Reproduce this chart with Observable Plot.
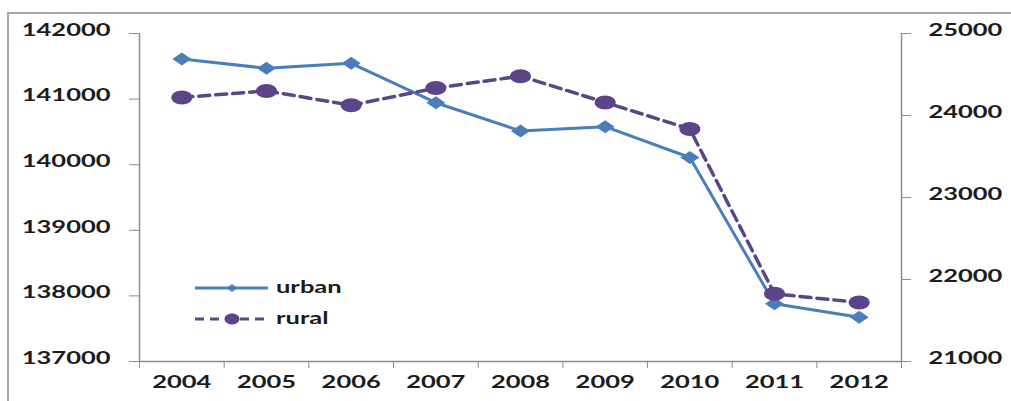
<!DOCTYPE html>
<html>
<head>
<meta charset="utf-8">
<script src="https://cdn.jsdelivr.net/npm/d3@7"></script>
<script src="https://cdn.jsdelivr.net/npm/@observablehq/plot@0.6"></script>
<style>
  html, body { margin: 0; padding: 0; background: #fff; }
  #wrap { position: relative; width: 1011px; height: 401px; overflow: hidden; background: #fff; }
  #border { position: absolute; left: 7px; top: 12px; width: 1100px; height: 500px;
            border-left: 2px solid #a6a6a6; border-top: 2px solid #a6a6a6; }
  #chart svg { position: absolute; left: 0; top: 0; }
  #legend { position: absolute; left: 0; top: 0; }
  text { font-family: Lato, "Open Sans", sans-serif; font-weight: 700; }
</style>
</head>
<body>
<div id="wrap">
  <div id="border"></div>
  <div id="chart"></div>
  <svg id="legend" width="400" height="401"></svg>
</div>
<script>
// Population by year: urban on the left axis, rural on the right axis
const years = [2004, 2005, 2006, 2007, 2008, 2009, 2010, 2011, 2012];
const urban = [141610, 141470, 141545, 140945, 140515, 140580, 140110, 137880, 137675];
const rural = [24220, 24300, 24125, 24335, 24480, 24160, 23835, 21825, 21720];
const leftTicks = [137000, 138000, 139000, 140000, 141000, 142000];
const rightTicks = [21000, 22000, 23000, 24000, 25000];
const seriesNames = ["urban", "rural"];

const blue = "#4a7ebb";
const purple = "#5b4488";
const axisGray = "#8c8c8c";
const ink = "#1c1c1c";

// Map the right-axis range onto the left-axis range
const leftDomain = [leftTicks[0], leftTicks[leftTicks.length - 1]];
const rightDomain = [rightTicks[0], rightTicks[rightTicks.length - 1]];
const k = (leftDomain[1] - leftDomain[0]) / (rightDomain[1] - rightDomain[0]);
const toLeft = r => leftDomain[0] + (r - rightDomain[0]) * k;
const fromLeft = u => Math.round(rightDomain[0] + (u - leftDomain[0]) / k);

const xDomain = [years[0] - 0.5, years[years.length - 1] + 0.5];
const boundaries = [...years.map(y => y - 0.5), years[years.length - 1] + 0.5];

const rows = years.map((year, i) => ({year, urban: urban[i], rural: toLeft(rural[i])}));

// Wide marker shapes (ellipse and flattened diamond)
function ellipse(rx, ry) {
  const c = 0.5523;
  return {draw(ctx) {
    ctx.moveTo(rx, 0);
    ctx.bezierCurveTo(rx, c * ry, c * rx, ry, 0, ry);
    ctx.bezierCurveTo(-c * rx, ry, -rx, c * ry, -rx, 0);
    ctx.bezierCurveTo(-rx, -c * ry, -c * rx, -ry, 0, -ry);
    ctx.bezierCurveTo(c * rx, -ry, rx, -c * ry, rx, 0);
    ctx.closePath();
  }};
}
function diamond(hx, hy) {
  return {draw(ctx) {
    ctx.moveTo(hx, 0); ctx.lineTo(0, hy); ctx.lineTo(-hx, 0); ctx.lineTo(0, -hy); ctx.closePath();
  }};
}

const textStyle = {fontSize: 17, fontWeight: 700, fontFamily: "Lato, 'Open Sans', sans-serif"};

const chart = Plot.plot({
  width: 1011,
  height: 401,
  marginLeft: 139,
  marginRight: 110,
  marginTop: 33,
  marginBottom: 40,
  style: {background: "transparent", color: ink, ...textStyle},
  x: {type: "linear", domain: xDomain},
  y: {type: "linear", domain: leftDomain},
  marks: [
    Plot.axisY(leftTicks, {anchor: "left", tickSize: 10, tickPadding: 19, tickFormat: d => String(d),
      label: null, stroke: axisGray, fill: ink, ...textStyle}),
    Plot.axisY(rightTicks.map(toLeft), {anchor: "right", tickSize: 9, tickPadding: 18,
      tickFormat: d => String(fromLeft(d)), label: null, stroke: axisGray, fill: ink, ...textStyle}),
    Plot.axisX(years, {anchor: "bottom", tickSize: 0, tickPadding: 26, tickFormat: d => String(d),
      label: null, fill: ink, ...textStyle}),
    Plot.axisX(boundaries, {anchor: "bottom", tickSize: 7, tickFormat: () => "", label: null,
      stroke: axisGray}),
    Plot.ruleX(xDomain, {stroke: axisGray, strokeWidth: 1.5}),
    Plot.ruleY([leftDomain[0]], {stroke: axisGray, strokeWidth: 1.5}),
    Plot.line(rows, {x: "year", y: "urban", stroke: blue, strokeWidth: 3}),
    Plot.dot(rows, {x: "year", y: "urban", symbol: diamond(9.5, 6.5), fill: blue, stroke: "none"}),
    Plot.line(rows, {x: "year", y: "rural", stroke: purple, strokeWidth: 3.5, strokeDasharray: "11,6"}),
    Plot.dot(rows, {x: "year", y: "rural", symbol: ellipse(10.5, 7), fill: purple, stroke: "none"})
  ]
});
document.getElementById("chart").appendChild(chart);

// Legend inside the plot area
const legendItems = [
  {name: seriesNames[0], color: blue, dash: null, width: 3, marker: diamond(5.5, 4)},
  {name: seriesNames[1], color: purple, dash: "9,6", width: 3, marker: ellipse(7.5, 5.5)}
];
const lg = d3.select("#legend");
legendItems.forEach((it, i) => {
  const cy = 288 + i * 31;
  const g = lg.append("g");
  g.append("line").attr("x1", 195).attr("x2", 268).attr("y1", cy).attr("y2", cy)
    .attr("stroke", it.color).attr("stroke-width", it.width)
    .attr("stroke-dasharray", it.dash);
  const p = d3.path();
  it.marker.draw(p);
  g.append("path").attr("d", p.toString()).attr("transform", `translate(232,${cy})`)
    .attr("fill", it.color);
  g.append("text").attr("x", 276).attr("y", cy).attr("dy", "0.32em")
    .attr("fill", ink).attr("font-size", 17).attr("font-weight", 700)
    .attr("text-anchor", "start").text(it.name);
});

// Widen every label horizontally about its own anchor point;
// y-axis labels sit a touch lower, level with their ticks
document.querySelectorAll("#wrap text").forEach(t => {
  const x = parseFloat(t.getAttribute("x")) || 0;
  let y = parseFloat(t.getAttribute("y")) || 0;
  const group = t.closest("g[aria-label]");
  if (group && /y-axis tick label/.test(group.getAttribute("aria-label"))) y += 2;
  const prev = t.getAttribute("transform") || "";
  t.setAttribute("x", 0);
  t.setAttribute("y", 0);
  t.setAttribute("transform", `${prev} translate(${x},${y}) scale(1.5,1)`);
});
</script>
</body>
</html>
